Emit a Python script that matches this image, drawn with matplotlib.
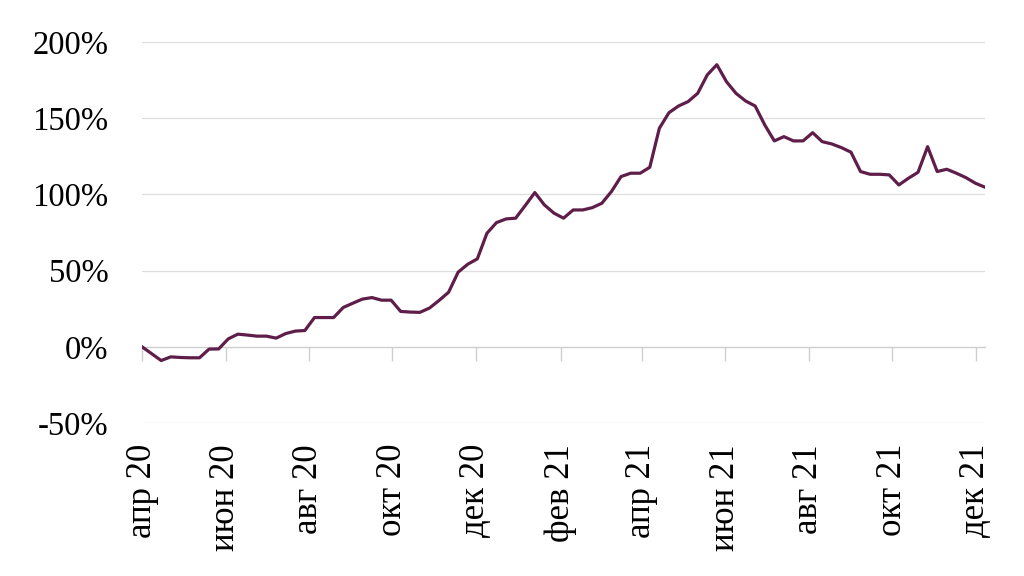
import numpy as np
import pandas as pd
import matplotlib
matplotlib.use('Agg')
import matplotlib.pyplot as plt
import matplotlib.transforms as mtransforms

# weekly values, % change, from 1 Apr 2020
start_date = '2020-04-01'
values = [0, -4.5, -9, -6.6, -7, -7.2, -7.2, -1.5, -1.4, 5.2,
          8.3, 7.7, 7, 7, 5.7, 8.7, 10.3, 10.7, 19.2, 19.2,
          19.2, 25.8, 28.6, 31.3, 32.3, 30.6, 30.6, 23.2, 22.8, 22.6,
          25.4, 30.4, 35.8, 49, 54.2, 57.7, 74.5, 81.5, 83.9, 84.4,
          92.7, 101.2, 93.1, 87.7, 84.4, 89.8, 89.8, 91.3, 94.2, 101.9,
          111.7, 113.9, 113.9, 117.8, 143.4, 153.6, 158, 160.9, 166.3, 178.4,
          185.1, 174, 166.3, 161.3, 158, 145.6, 135.1, 137.9, 135.1, 135.1,
          140.5, 134.6, 133.1, 130.7, 127.7, 115, 113.2, 113.2, 112.8, 106.2,
          110.6, 114.5, 131.3, 115, 116.5, 113.9, 111, 107.3, 104.7]

tick_dates = ['2020-04-01', '2020-06-01', '2020-08-01', '2020-10-01', '2020-12-01',
              '2021-02-01', '2021-04-01', '2021-06-01', '2021-08-01', '2021-10-01',
              '2021-12-01']
tick_labels = ['апр 20', 'июн 20', 'авг 20', 'окт 20', 'дек 20', 'фев 21',
               'апр 21', 'июн 21', 'авг 21', 'окт 21', 'дек 21']
y_ticks = [-50, 0, 50, 100, 150, 200]
y_labels = ['-50%', '0%', '50%', '100%', '150%', '200%']

plt.rcParams['font.family'] = ['Liberation Serif', 'DejaVu Serif']

dates = pd.date_range(start_date, periods=len(values), freq='7D')
ticks = pd.to_datetime(tick_dates)

fig = plt.figure(figsize=(10.24, 5.76), dpi=100)
ax = fig.add_axes([0.1387, 0.2656, 0.8233, 0.6615])

for y in y_ticks:
    if y != 0:
        ax.axhline(y, color='#dedede', linewidth=0.9, zorder=0)

ax.plot(dates, values, color='#5f1e4a', linewidth=2.3, zorder=3)

ax.set_xlim(dates[0], dates[-1])
ax.set_ylim(-50, 200)
ax.set_yticks(y_ticks)
ax.set_yticklabels(y_labels, fontsize=23.5)
ax.tick_params(axis='y', length=0, pad=24)

for s in ['top', 'right', 'left']:
    ax.spines[s].set_visible(False)
ax.spines['bottom'].set_position(('data', 0))
ax.spines['bottom'].set_color('#cfcfcf')
ax.spines['bottom'].set_linewidth(1.0)
ax.set_xticks(ticks)
ax.set_xticklabels([])
ax.tick_params(axis='x', direction='out', length=10, color='#cfcfcf', width=1.0)

trans = mtransforms.blended_transform_factory(ax.transData, ax.transAxes)
for d, lab in zip(ticks, tick_labels):
    ax.text(d, -0.055, lab, transform=trans, rotation=90, ha='center', va='top',
            fontsize=25)

fig.savefig('out.png', dpi=100)
